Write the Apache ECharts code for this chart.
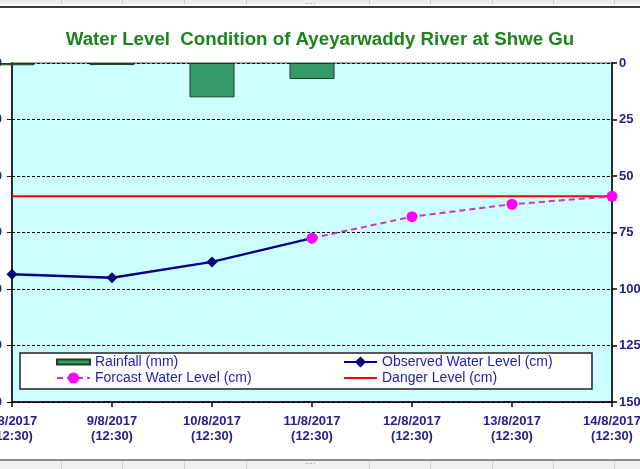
<!DOCTYPE html>
<html>
<head>
<meta charset="utf-8">
<script src="https://cdn.jsdelivr.net/npm/echarts@6/dist/echarts.min.js"></script>
<style>html,body{margin:0;padding:0;background:#fff;}#c{width:640px;height:469px;}</style>
</head>
<body>
<div id="c"></div>
<script>
var categories = ['8/8/2017\n(12:30)', '9/8/2017\n(12:30)', '10/8/2017\n(12:30)', '11/8/2017\n(12:30)', '12/8/2017\n(12:30)', '13/8/2017\n(12:30)', '14/8/2017\n(12:30)'];
var rainfall = [1.0, 0.9, 15.2, 7.1];
var observed = [1113, 1110, 1124, 1145, null, null, null];
var forecast = [null, null, null, 1145, 1164, 1175, 1182];
var danger = [1182, 1182, 1182, 1182, 1182, 1182, 1182];
var rainTicks = [0, 25, 50, 75, 100, 125, 150];

var FONT = 'Liberation Sans, Arial, sans-serif';
var chart = echarts.init(document.getElementById('c'), null, {renderer: 'canvas'});

var graphics = [
  {type: 'rect', shape: {x: 0, y: 0, width: 640, height: 4}, style: {fill: '#eeeeee'}, z: 0, silent: true},
  {type: 'rect', shape: {x: 0, y: 6, width: 640, height: 2}, style: {fill: '#3c3c3c'}, z: 0, silent: true},
  {type: 'rect', shape: {x: 0, y: 459, width: 640, height: 2}, style: {fill: '#8c8c8c'}, z: 0, silent: true},
  {type: 'rect', shape: {x: 0, y: 461, width: 640, height: 8}, style: {fill: '#f0f0f0'}, z: 0, silent: true},
  {type: 'rect', shape: {x: 20, y: 353, width: 572, height: 36}, style: {fill: '#ffffff', stroke: '#222222', lineWidth: 1.5}, z: 3, silent: true}
];
[61, 122, 184, 246, 369, 430, 492, 553, 614].forEach(function (x) {
  graphics.push({type: 'rect', shape: {x: x, y: 0, width: 1, height: 4}, style: {fill: '#c8c8c8'}, z: 0, silent: true});
  graphics.push({type: 'rect', shape: {x: x, y: 461, width: 1, height: 8}, style: {fill: '#d0d0d0'}, z: 0, silent: true});
});
graphics.push({type: 'text', left: 305, top: 0, style: {text: '····', fill: '#888', font: '8px ' + FONT}, z: 0, silent: true});
graphics.push({type: 'text', left: 305, top: 460, style: {text: '····', fill: '#888', font: '8px ' + FONT}, z: 0, silent: true});

chart.setOption({
  animation: false,
  backgroundColor: '#ffffff',
  textStyle: {fontFamily: FONT},
  title: {
    text: 'Water Level  Condition of Ayeyarwaddy River at Shwe Gu',
    left: 'center',
    top: 30,
    padding: 0,
    textStyle: {color: '#1b841b', fontSize: 18.7, fontWeight: 'bold', fontFamily: FONT}
  },
  graphic: graphics,
  grid: {left: 12, right: 28, top: 63, bottom: 67, show: true, backgroundColor: '#ccffff', borderColor: '#8a8a8a', borderWidth: 1.5, containLabel: false, outerBoundsMode: 'none'},
  legend: [
    {
      orient: 'vertical', left: 56, top: 355, padding: 0, itemWidth: 33, itemHeight: 14, itemGap: 2, z: 5,
      textStyle: {fontSize: 14, color: '#2222bb', fontFamily: FONT},
      data: [{name: 'Rainfall (mm)', icon: 'path://M0,0H33V5H0Z'}, 'Forcast Water Level (cm)']
    },
    {
      orient: 'vertical', left: 343, top: 355, padding: 0, itemWidth: 33, itemHeight: 14, itemGap: 2, z: 5,
      textStyle: {fontSize: 14, color: '#2222bb', fontFamily: FONT},
      data: ['Observed Water Level (cm)', {name: 'Danger Level (cm)', icon: 'path://M0,0H33V2H0Z'}]
    }
  ],
  xAxis: [
    {
      type: 'category', data: categories, boundaryGap: false, position: 'bottom',
      axisLine: {onZero: false, lineStyle: {color: '#000', width: 1.5}},
      axisTick: {show: true, alignWithLabel: true, length: 5, lineStyle: {color: '#000', width: 1.5}},
      axisLabel: {interval: 0, margin: 12, color: '#22228a', fontSize: 13, fontWeight: 'bold', lineHeight: 15, fontFamily: FONT},
      splitLine: {show: false}
    }
  ],
  yAxis: [
    {
      type: 'value', min: 1000, max: 1300, interval: 50, position: 'left',
      axisLine: {show: true, onZero: false, lineStyle: {color: '#000', width: 1.5}},
      axisTick: {show: true, length: 5, lineStyle: {color: '#000'}},
      axisLabel: {margin: 10, color: '#22228a', fontSize: 13, fontWeight: 'bold', fontFamily: FONT, formatter: function (v) { return String(v); }},
      splitLine: {show: false}
    },
    {
      type: 'value', min: rainTicks[0], max: rainTicks[rainTicks.length - 1], interval: 25, inverse: true, position: 'right',
      axisLine: {show: true, onZero: false, lineStyle: {color: '#000', width: 1.5}},
      axisTick: {show: true, length: 5, lineStyle: {color: '#000', width: 1.5}},
      axisLabel: {margin: 7, color: '#22228a', fontSize: 13, fontWeight: 'bold', fontFamily: FONT},
      splitLine: {show: true, lineStyle: {color: '#000', width: 1, type: [3, 2]}}
    }
  ],
  series: [
    {
      name: 'Rainfall (mm)', type: 'bar', xAxisIndex: 0, yAxisIndex: 1, data: rainfall, barWidth: 45, clip: true,
      itemStyle: {color: '#339966', borderColor: '#1e3d1e', borderWidth: 1}, z: 2
    },
    {
      name: 'Observed Water Level (cm)', type: 'line', xAxisIndex: 0, yAxisIndex: 0, data: observed,
      symbol: 'diamond', symbolSize: 11, connectNulls: false,
      lineStyle: {color: '#000080', width: 2.5}, itemStyle: {color: '#000080'}, z: 4
    },
    {
      name: 'Forcast Water Level (cm)', type: 'line', xAxisIndex: 0, yAxisIndex: 0, data: forecast,
      symbol: 'circle', symbolSize: 11,
      lineStyle: {color: '#cc33cc', width: 2, type: [6, 4]}, itemStyle: {color: '#ff00ff'}, z: 5
    },
    {
      name: 'Danger Level (cm)', type: 'line', xAxisIndex: 0, yAxisIndex: 0, data: danger,
      symbol: 'none', lineStyle: {color: '#ff0000', width: 2}, itemStyle: {color: '#ff0000'}, z: 3
    }
  ]
});
</script>
</body>
</html>
